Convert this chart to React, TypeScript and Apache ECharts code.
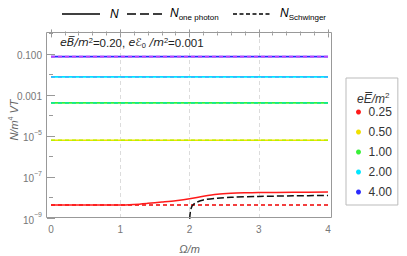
import React, { useEffect, useRef } from 'react';
import * as echarts from 'echarts';

// ---- data ----
const xTicks = [0, 1, 2, 3, 4];
const yTickExps = [-9, -7, -5, -3, -1];

const fieldLabels = ['0.25', '0.50', '1.00', '2.00', '4.00'];
const fieldColors = ['#ff1a1a', '#f0e000', '#38f038', '#00e6ff', '#2a2aff'];
const schwingerColors = ['#ee0000', '#b8f000', '#10e890', '#30b8ff', '#c040ff'];

// flat curves (E >= 0.5): N ≈ N_Schwinger over the whole Ω range
const flatOmega = [0, 4];
const flatN = [null, 6.2e-6, 4.1e-4, 7.6e-3, 7.4e-2];

// E = 0.25
const omegaN025 = [0, 1.0, 1.2, 1.4, 1.6, 1.8, 2.0, 2.2, 2.4, 2.6, 2.8, 3.0, 3.5, 4.0];
const nN025 = [4.3e-9, 4.3e-9, 4.6e-9, 5.2e-9, 6.0e-9, 7.0e-9, 8.6e-9, 1.15e-8, 1.45e-8, 1.62e-8, 1.7e-8, 1.74e-8, 1.8e-8, 1.85e-8];
const schwinger025 = 4.3e-9;
const omegaOne = [2.0, 2.004, 2.015, 2.03, 2.05, 2.1, 2.2, 2.4, 2.6, 3.0, 3.5, 4.0];
const nOne = [1e-11, 1.0e-9, 2.2e-9, 3.4e-9, 4.3e-9, 5.8e-9, 7.6e-9, 9.3e-9, 1.02e-8, 1.13e-8, 1.2e-8, 1.26e-8];

const FONT = "'Liberation Sans', Arial, sans-serif";

function pairs(xs: number[], ys: number[]) {
  return xs.map((x, i) => [x, Math.log10(ys[i])]);
}

export default function App() {
  const ref = useRef<HTMLDivElement>(null);
  useEffect(() => {
    if (!ref.current) return;
    const chart = echarts.init(ref.current, undefined, { renderer: 'svg' });

    const series: any[] = [];
    // flat lines
    for (let k = 1; k < fieldLabels.length; k++) {
      const v = flatN[k] as number;
      series.push({
        name: fieldLabels[k], type: 'line', showSymbol: false, symbol: 'circle',
        data: pairs(flatOmega, flatOmega.map(() => v)),
        lineStyle: { color: fieldColors[k], width: 1.6 }, itemStyle: { color: fieldColors[k] },
        z: 3,
      });
      series.push({
        name: 'S' + fieldLabels[k], type: 'line', showSymbol: false,
        data: pairs(flatOmega, flatOmega.map(() => v)),
        lineStyle: { color: schwingerColors[k], width: 1.6, type: [4, 3] },
        z: 4,
      });
    }
    // E = 0.25
    series.push({
      name: 'S0.25', type: 'line', showSymbol: false,
      data: pairs(flatOmega, flatOmega.map(() => schwinger025)),
      lineStyle: { color: schwingerColors[0], width: 1.4, type: [4, 3] }, z: 4,
    });
    series.push({
      name: 'one', type: 'line', showSymbol: false, smooth: 0.3,
      data: pairs(omegaOne, nOne),
      lineStyle: { color: '#111', width: 1.5, type: [7, 3] }, z: 4,
    });
    series.push({
      name: fieldLabels[0], type: 'line', showSymbol: false, symbol: 'circle', smooth: 0.3,
      data: pairs(omegaN025, nN025),
      lineStyle: { color: fieldColors[0], width: 1.5 }, itemStyle: { color: fieldColors[0] }, z: 5,
    });

    const tickColor = '#999';
    const labelColor = '#777';

    chart.setOption({
      animation: false,
      grid: { left: 51, right: 79, top: 32, bottom: 38, containLabel: false, outerBoundsMode: 'none' },
      xAxis: [
        {
          type: 'value', min: 0, max: 4, interval: 1,
          name: 'Ω/m', nameLocation: 'middle', nameGap: 25, nameMoveOverlap: false,
          nameTextStyle: { fontFamily: FONT, fontSize: 11, fontStyle: 'italic', color: '#666' },
          axisLine: { show: false },
          axisTick: { inside: true, length: 4, lineStyle: { color: tickColor } },
          minorTick: { show: true, splitNumber: 5, length: 2, lineStyle: { color: tickColor } },
          axisLabel: { fontFamily: FONT, fontSize: 10, color: labelColor, margin: 6,
            formatter: (v: number) => (xTicks.includes(v) ? String(v) : '') },
          splitLine: { show: true, showMinLine: false, showMaxLine: false,
            lineStyle: { color: '#dcdcdc', type: [4, 3], width: 1 } },
        },
        {
          type: 'value', min: 0, max: 4, interval: 1, position: 'top',
          axisLine: { show: false },
          axisTick: { inside: true, length: 4, lineStyle: { color: tickColor } },
          minorTick: { show: true, splitNumber: 5, length: 2, lineStyle: { color: tickColor } },
          axisLabel: { show: false }, splitLine: { show: false },
        },
      ],
      yAxis: [
        {
          type: 'value', min: -9, max: 0.07, interval: 2, offset: 5,
          axisLine: { show: false },
          axisTick: { inside: true, length: 4, lineStyle: { color: tickColor } },
          minorTick: { show: true, splitNumber: 2, length: 2, lineStyle: { color: tickColor } },
          splitLine: { show: false },
          axisLabel: {
            margin: 4, color: labelColor, fontFamily: FONT, fontSize: 10,
            formatter: (v: number) => {
              const r = Math.round(v);
              if (Math.abs(v - r) > 1e-6 || !yTickExps.includes(r)) return '';
              if (r === -1) return '{b|0.100}';
              if (r === -3) return '{b|0.001}';
              return '{b|10}{s|−' + -r + '}';
            },
            rich: {
              b: { fontFamily: FONT, fontSize: 10, color: labelColor, lineHeight: 14, verticalAlign: 'bottom' },
              s: { fontFamily: FONT, fontSize: 7, color: labelColor, lineHeight: 14, verticalAlign: 'top' },
            },
          },
        },
        {
          type: 'value', min: -9, max: 0.07, interval: 2, position: 'right', offset: 4,
          axisLine: { show: false },
          axisTick: { inside: true, length: 4, lineStyle: { color: tickColor } },
          minorTick: { show: true, splitNumber: 2, length: 2, lineStyle: { color: tickColor } },
          axisLabel: { show: false }, splitLine: { show: false },
        },
      ],
      legend: {
        data: fieldLabels.map((n, i) => ({ name: n, itemStyle: { color: fieldColors[i] } })),
        orient: 'vertical', left: 346, top: 78,
        icon: 'circle', itemWidth: 10, itemHeight: 5, itemGap: 6,
        padding: [27, 6, 6, 10],
        borderColor: '#bbb', borderWidth: 1,
        textStyle: { fontFamily: FONT, fontSize: 12, color: '#333', lineHeight: 14 },
        selectedMode: false,
      },
      graphic: [
        { type: 'rect', shape: { x: 46.5, y: 32.5, width: 285, height: 185 },
          style: { fill: 'none', stroke: '#999', lineWidth: 1 }, z: 10, silent: true },
        // y axis title
        { type: 'text', x: 13, y: 120, rotation: Math.PI / 2, z: 20,
          style: { text: '{i|N/m}{s|4}{i| VT}', align: 'center', verticalAlign: 'middle',
            rich: {
              i: { fontFamily: FONT, fontSize: 11, fontStyle: 'italic', fill: '#666', lineHeight: 13, verticalAlign: 'bottom' },
              s: { fontFamily: FONT, fontSize: 7, fill: '#666', lineHeight: 13, verticalAlign: 'top' },
            } } },
        // legend title
        { type: 'text', x: 357, y: 91, z: 20,
          style: { text: '{i|eE\u0305/m}{s|2}', fill: '#333',
            rich: {
              i: { fontFamily: FONT, fontSize: 12, fontStyle: 'italic', fill: '#333', lineHeight: 14, verticalAlign: 'bottom' },
              s: { fontFamily: FONT, fontSize: 8, fill: '#333', lineHeight: 14, verticalAlign: 'top' },
            } } },
        // annotation
        { type: 'text', x: 60, y: 36, z: 20,
          style: { text: '{i|eB\u0305/m}{s|2}{n|=0.20, }{i|e\u2130}{d|0}{i| /m}{s|2}{n|=0.001}', fill: '#222',
            rich: {
              i: { fontFamily: "'DejaVu Sans', " + FONT, fontSize: 11, fontStyle: 'italic', fill: '#222', lineHeight: 13, verticalAlign: 'middle' },
              n: { fontFamily: FONT, fontSize: 11.5, fill: '#222', lineHeight: 13, verticalAlign: 'middle' },
              s: { fontFamily: FONT, fontSize: 7.5, fill: '#222', lineHeight: 13, verticalAlign: 'top' },
              d: { fontFamily: FONT, fontSize: 7.5, fill: '#222', lineHeight: 13, verticalAlign: 'bottom' },
            } } },
        // top legend
        { type: 'line', shape: { x1: 62, y1: 14, x2: 100, y2: 14 }, style: { stroke: '#000', lineWidth: 1.5 } },
        { type: 'text', x: 110, y: 8, style: { text: 'N', fontFamily: FONT, fontSize: 12, fontStyle: 'italic', fill: '#000' } },
        { type: 'line', shape: { x1: 127, y1: 14, x2: 164, y2: 14 }, style: { stroke: '#000', lineWidth: 1.5, lineDash: [9, 4] } },
        { type: 'text', x: 170, y: 7, z: 20,
          style: { text: '{i|N}{d|one photon}',
            rich: {
              i: { fontFamily: FONT, fontSize: 12, fontStyle: 'italic', fill: '#000', lineHeight: 14, verticalAlign: 'top' },
              d: { fontFamily: FONT, fontSize: 8, fill: '#000', lineHeight: 14, verticalAlign: 'bottom' },
            } } },
        { type: 'line', shape: { x1: 233, y1: 14, x2: 270, y2: 14 }, style: { stroke: '#000', lineWidth: 1.5, lineDash: [4, 2.5] } },
        { type: 'text', x: 280, y: 7, z: 20,
          style: { text: '{i|N}{d|Schwinger}',
            rich: {
              i: { fontFamily: FONT, fontSize: 12, fontStyle: 'italic', fill: '#000', lineHeight: 14, verticalAlign: 'top' },
              d: { fontFamily: FONT, fontSize: 8, fill: '#000', lineHeight: 14, verticalAlign: 'bottom' },
            } } },
      ],
      series,
    });
    return () => chart.dispose();
  }, []);
  return <div ref={ref} style={{ width: 407, height: 256, position: 'absolute', left: 0, top: 0 }} />;
}
